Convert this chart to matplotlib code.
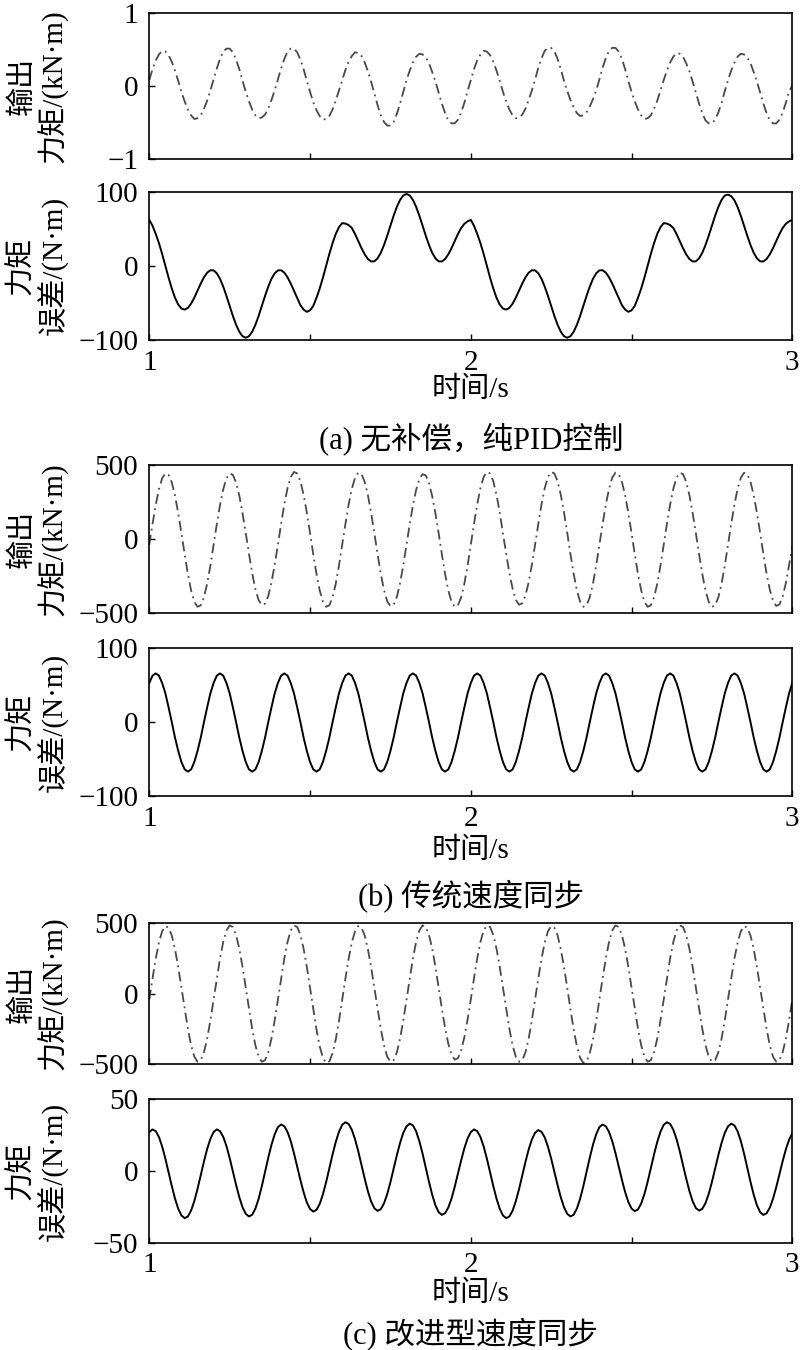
import numpy as np
import matplotlib
matplotlib.use("Agg")
import matplotlib.pyplot as plt

plt.rcParams['font.family'] = ['Liberation Serif', 'Noto Sans CJK SC']
plt.rcParams['axes.unicode_minus'] = True

# ---------------- data ----------------
time_s = np.linspace(1.0, 3.0, 201)   # sample instants, 0.01 s apart

# (a) output torque, kN·m
out_a = [
    0.08, 0.23, 0.35, 0.43, 0.48, 0.47, 0.42, 0.33, 0.21, 0.07, -0.08, -0.21, -0.32, -0.40, -0.45, -0.44, -0.40, -0.31, -0.20, -0.06,
    0.09, 0.24, 0.37, 0.47, 0.51, 0.51, 0.46, 0.36, 0.23, 0.07, -0.08, -0.21, -0.32, -0.40, -0.44, -0.43, -0.39, -0.31, -0.19, -0.06,
    0.09, 0.24, 0.37, 0.47, 0.51, 0.51, 0.46, 0.36, 0.23, 0.07, -0.08, -0.22, -0.33, -0.41, -0.46, -0.45, -0.41, -0.32, -0.20, -0.06,
    0.08, 0.22, 0.33, 0.41, 0.46, 0.45, 0.41, 0.32, 0.20, 0.06, -0.10, -0.26, -0.40, -0.49, -0.54, -0.54, -0.49, -0.38, -0.24, -0.08,
    0.08, 0.21, 0.32, 0.40, 0.44, 0.43, 0.39, 0.31, 0.19, 0.06, -0.09, -0.24, -0.37, -0.47, -0.51, -0.51, -0.46, -0.36, -0.23, -0.07,
    0.08, 0.23, 0.35, 0.43, 0.48, 0.47, 0.42, 0.33, 0.21, 0.07, -0.08, -0.21, -0.32, -0.40, -0.44, -0.43, -0.39, -0.31, -0.19, -0.06,
    0.09, 0.25, 0.38, 0.48, 0.52, 0.52, 0.47, 0.37, 0.23, 0.07, -0.07, -0.19, -0.29, -0.37, -0.41, -0.40, -0.36, -0.28, -0.18, -0.06,
    0.09, 0.25, 0.38, 0.48, 0.52, 0.52, 0.47, 0.37, 0.23, 0.07, -0.08, -0.21, -0.32, -0.40, -0.45, -0.44, -0.40, -0.31, -0.20, -0.06,
    0.08, 0.21, 0.32, 0.40, 0.45, 0.44, 0.40, 0.31, 0.20, 0.06, -0.09, -0.24, -0.37, -0.47, -0.51, -0.51, -0.46, -0.36, -0.23, -0.07,
    0.08, 0.21, 0.32, 0.40, 0.44, 0.43, 0.39, 0.31, 0.19, 0.06, -0.09, -0.24, -0.37, -0.47, -0.51, -0.51, -0.46, -0.36, -0.23, -0.07,
    0.00]

# (a) torque error, N·m
err_a = [
    62, 54, 43.1, 30.6, 16.0, 0, -16.0, -30.6, -43.1, -52.2,
    -57.6, -59.0, -56.7, -51.0, -42.9, -33.5, -23.9, -15.5, -9.2, -5.9,
    -6.1, -10.1, -17.5, -28.1, -40.6, -54.2, -67.6, -79.5, -88.9, -94.9,
    -97, -94.9, -88.9, -79.5, -67.6, -54.2, -40.6, -28.1, -17.5, -10.1,
    -6.1, -5.9, -9.2, -15.5, -23.9, -33.5, -42.9, -53, -59, -62,
    -60, -54, -43.1, -30.6, -16.0, 0, 16.0, 30.6, 43.1, 52.2,
    57.6, 57, 55, 51.0, 42.9, 33.5, 23.9, 15.5, 9.2, 5.9,
    6.1, 10.1, 17.5, 28.1, 40.6, 54.2, 67.6, 79.5, 88.9, 94.9,
    97, 94.9, 88.9, 79.5, 67.6, 54.2, 40.6, 28.1, 17.5, 10.1,
    6.1, 5.9, 9.2, 15.5, 23.9, 33.5, 42.9, 51.0, 56.7, 60,
    62, 54, 43.1, 30.6, 16.0, 0, -16.0, -30.6, -43.1, -52.2,
    -57.6, -59.0, -56.7, -51.0, -42.9, -33.5, -23.9, -15.5, -9.2, -5.9,
    -6.1, -10.1, -17.5, -28.1, -40.6, -54.2, -67.6, -79.5, -88.9, -94.9,
    -97, -94.9, -88.9, -79.5, -67.6, -54.2, -40.6, -28.1, -17.5, -10.1,
    -6.1, -5.9, -9.2, -15.5, -23.9, -33.5, -42.9, -53, -59, -62,
    -60, -54, -43.1, -30.6, -16.0, 0, 16.0, 30.6, 43.1, 52.2,
    57.6, 57, 55, 51.0, 42.9, 33.5, 23.9, 15.5, 9.2, 5.9,
    6.1, 10.1, 17.5, 28.1, 40.6, 54.2, 67.6, 79.5, 88.9, 94.9,
    96, 94.0, 88.4, 79.2, 67.4, 54.0, 40.6, 28.1, 17.5, 10.1,
    6.1, 5.9, 9.2, 15.5, 23.9, 33.5, 42.9, 51.0, 56.7, 60,
    62]

# (b) output torque, kN·m
out_b = [
    -40, 100, 229, 336, 410, 443, 433, 381, 292, 174, 39, -104, -238, -349, -426, -460, -450, -396, -303, -181,
    -40, 100, 229, 336, 410, 443, 433, 381, 292, 174, 39, -101, -232, -341, -415, -449, -439, -387, -296, -176,
    -40, 102, 234, 344, 419, 453, 443, 390, 298, 178, 40, -104, -238, -349, -426, -460, -450, -396, -303, -181,
    -40, 101, 232, 340, 414, 448, 438, 386, 295, 176, 39, -103, -236, -346, -422, -456, -446, -393, -300, -179,
    -40, 99, 227, 332, 405, 438, 429, 377, 289, 172, 38, -104, -238, -349, -426, -460, -450, -396, -303, -181,
    -40, 102, 234, 344, 419, 453, 443, 390, 298, 178, 40, -101, -231, -338, -413, -446, -436, -384, -294, -175,
    -39, 102, 234, 344, 419, 453, 443, 390, 298, 178, 40, -104, -238, -349, -426, -460, -450, -396, -303, -181,
    -40, 101, 232, 340, 414, 448, 438, 386, 295, 176, 39, -104, -238, -349, -426, -460, -450, -396, -303, -181,
    -40, 101, 232, 340, 414, 448, 438, 386, 295, 176, 39, -104, -238, -349, -426, -460, -450, -396, -303, -181,
    -40, 101, 232, 340, 414, 448, 438, 386, 295, 176, 39, -103, -235, -344, -420, -454, -444, -391, -299, -178,
    -50]

# (b) torque error, N·m
err_b = [
    53, 63, 66, 63, 53, 39, 20, 0, -21, -39, -54, -64, -67, -64, -54, -39, -21, 0, 20, 39,
    53, 63, 66, 63, 53, 39, 20, 0, -21, -39, -54, -64, -67, -64, -54, -39, -21, 0, 20, 39,
    53, 63, 66, 63, 53, 39, 20, 0, -21, -39, -54, -64, -67, -64, -54, -39, -21, 0, 20, 39,
    53, 63, 66, 63, 53, 39, 20, 0, -21, -39, -54, -64, -67, -64, -54, -39, -21, 0, 20, 39,
    53, 63, 66, 63, 53, 39, 20, 0, -21, -39, -54, -64, -67, -64, -54, -39, -21, 0, 20, 39,
    53, 63, 66, 63, 53, 39, 20, 0, -21, -39, -54, -64, -67, -64, -54, -39, -21, 0, 20, 39,
    53, 63, 66, 63, 53, 39, 20, 0, -21, -39, -54, -64, -67, -64, -54, -39, -21, 0, 20, 39,
    53, 63, 66, 63, 53, 39, 20, 0, -21, -39, -54, -64, -67, -64, -54, -39, -21, 0, 20, 39,
    53, 63, 66, 63, 53, 39, 20, 0, -21, -39, -54, -64, -67, -64, -54, -39, -21, 0, 20, 39,
    53, 63, 66, 63, 53, 39, 20, 0, -21, -39, -54, -64, -67, -64, -54, -39, -21, 0, 20, 39,
    53]

# (c) output torque, kN·m
out_c = [
    -42, 108, 248, 364, 444, 480, 469, 413, 316, 188, 42, -109, -250, -367, -448, -484, -473, -417, -319, -190,
    -42, 110, 251, 368, 449, 485, 474, 417, 319, 190, 42, -109, -250, -367, -448, -484, -473, -417, -319, -190,
    -42, 110, 251, 368, 449, 485, 474, 417, 319, 190, 42, -111, -255, -374, -456, -493, -482, -424, -325, -194,
    -42, 108, 248, 364, 444, 480, 469, 413, 316, 188, 42, -109, -250, -367, -448, -484, -473, -417, -319, -190,
    -42, 110, 251, 368, 449, 485, 474, 417, 319, 190, 42, -106, -243, -356, -434, -469, -459, -404, -309, -184,
    -42, 110, 251, 368, 449, 485, 474, 417, 319, 190, 42, -109, -250, -367, -448, -484, -473, -417, -319, -190,
    -42, 108, 248, 364, 444, 480, 469, 413, 316, 188, 42, -111, -255, -374, -456, -493, -482, -424, -325, -194,
    -42, 110, 251, 368, 449, 485, 474, 417, 319, 190, 42, -109, -250, -367, -448, -484, -473, -417, -319, -190,
    -42, 110, 251, 368, 449, 485, 474, 417, 319, 190, 42, -109, -250, -367, -448, -484, -473, -417, -319, -190,
    -42, 108, 248, 364, 444, 480, 469, 413, 316, 188, 42, -109, -250, -367, -448, -484, -473, -417, -319, -190,
    -42]

# (c) torque error, N·m
err_c = [
    27.1, 29.0, 27.8, 23.7, 17.1, 8.6, -0.9, -10.5, -19.3, -26.3, -31.0, -32.9, -31.7, -27.6, -21.0, -12.5, -3.0, 6.6, 15.4, 22.4,
    27.2, 29.0, 27.8, 23.8, 17.4, 9.0, -0.3, -9.7, -18.3, -25.3, -29.9, -31.7, -30.5, -26.2, -19.4, -10.6, -0.8, 9.2, 18.3, 25.6,
    30.6, 32.4, 31.2, 27.2, 20.8, 12.4, 3.1, -6.3, -14.9, -21.9, -26.5, -28.3, -27.1, -23.0, -16.3, -7.8, 1.8, 11.5, 20.3, 27.4,
    32.2, 34.0, 32.8, 28.7, 22.1, 13.7, 4.2, -5.4, -14.2, -21.3, -26.0, -27.8, -26.6, -22.6, -16.1, -7.8, 1.5, 11.0, 19.6, 26.6,
    31.1, 33.0, 31.8, 27.6, 20.8, 12.1, 2.3, -7.6, -16.6, -23.9, -28.7, -30.6, -29.4, -25.5, -19.2, -11.0, -1.8, 7.4, 15.9, 22.7,
    27.1, 29.0, 27.8, 23.7, 17.1, 8.6, -0.9, -10.5, -19.3, -26.3, -31.0, -32.9, -31.7, -27.7, -21.1, -12.7, -3.3, 6.3, 15.0, 22.0,
    26.7, 28.5, 27.3, 23.4, 16.9, 8.7, -0.6, -9.9, -18.4, -25.3, -29.9, -31.7, -30.5, -26.2, -19.4, -10.6, -0.8, 9.2, 18.3, 25.6,
    30.6, 32.4, 31.2, 27.2, 20.8, 12.5, 3.3, -6.1, -14.7, -21.6, -26.2, -28.0, -26.8, -22.7, -16.1, -7.6, 1.9, 11.6, 20.3, 27.4,
    32.2, 34.0, 32.8, 28.7, 22.2, 13.7, 4.3, -5.3, -14.0, -21.1, -25.8, -27.6, -26.4, -22.4, -16.0, -7.7, 1.6, 11.1, 19.6, 26.6,
    31.1, 33.0, 31.8, 27.6, 20.8, 12.1, 2.3, -7.6, -16.6, -23.9, -28.7, -30.6, -29.5, -25.6, -19.4, -11.3, -2.3, 6.8, 15.1, 21.8,
    26.3]

x_ticks = [1, 1.5, 2, 2.5, 3]
x_ticklabels = ['1', '', '2', '', '3']
x_label = '时间/s'
captions = ['(a) 无补偿，纯PID控制', '(b) 传统速度同步', '(c) 改进型速度同步']
out_label = ('输出', '力矩/(kN·m)')
err_label = ('力矩', '误差/(N·m)')

# ---------------- layout ----------------
W, H = 800, 1350
fig = plt.figure(figsize=(W / 100, H / 100), dpi=100)
LEFT, RIGHT = 149.3, 792.3
FS = 21


def rect(top, bottom):
    return [LEFT / W, 1 - bottom / H, (RIGHT - LEFT) / W, (bottom - top) / H]


panels = [
    # top, bottom, data, ylim, kind, labels, show x labels
    (12.7, 159.3, out_a, 1, 'out', out_label, False),
    (191.7, 340.0, err_a, 100, 'err', err_label, True),
    (465.0, 612.7, out_b, 500, 'out', out_label, False),
    (648.3, 796.0, err_b, 100, 'err', err_label, True),
    (923.3, 1064.0, out_c, 500, 'out', out_label, False),
    (1099.3, 1242.7, err_c, 50, 'err', err_label, True),
]

for top, bottom, data, lim, kind, labels, showx in panels:
    ax = fig.add_axes(rect(top, bottom))
    if kind == 'out':
        ax.plot(time_s, data, color='#4a4a4a', lw=1.3,
                linestyle=(0, (5.5, 2.5, 1.0, 2.5)))
    else:
        ax.plot(time_s, data, color='black', lw=1.4)
    ax.set_xlim(1, 3)
    ax.set_ylim(-lim, lim)
    ax.set_yticks([-lim, 0, lim])
    ax.set_xticks(x_ticks)
    if showx:
        ax.set_xticklabels(x_ticklabels)
    else:
        ax.set_xticklabels([''] * len(x_ticks))
    ax.tick_params(direction='in', length=4, width=1.0, labelsize=FS,
                   top=False, right=False)
    ax.tick_params(axis='x', pad=7)
    ax.tick_params(axis='y', pad=8)
    for sp in ax.spines.values():
        sp.set_linewidth(1.2)
    yc = 1 - (top + bottom) / 2 / H
    fig.text(22 / W, yc, labels[0], rotation=90, ha='center', va='center',
             fontsize=FS)
    fig.text(53 / W, yc, labels[1], rotation=90, ha='center', va='center',
             fontsize=FS)

xc = (LEFT + RIGHT) / 2 / W
for y in (390, 851, 1294):
    fig.text(xc, 1 - y / H, x_label, ha='center', va='center', fontsize=FS)
for y, cap in zip((439, 896, 1334), captions):
    fig.text(xc, 1 - y / H, cap, ha='center', va='center', fontsize=22)

fig.savefig('out.png', dpi=100)
